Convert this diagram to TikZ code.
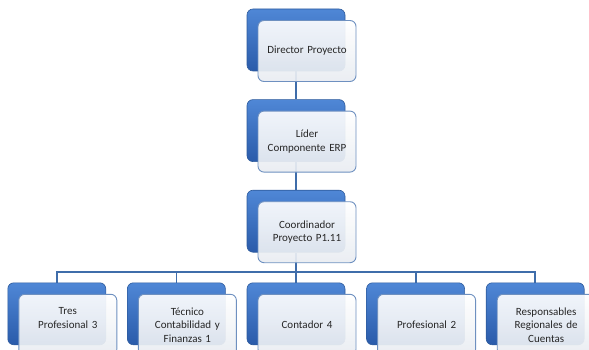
\documentclass[tikz,border=0pt]{standalone}
\usepackage{fontspec}
\setmainfont{Carlito}
\usetikzlibrary{positioning, backgrounds, calc}

\definecolor{bluetop}{HTML}{4F87D6}
\definecolor{bluebot}{HTML}{2A5BAA}
\definecolor{blueedge}{HTML}{2E5B9C}
\definecolor{cardbot}{HTML}{E8ECF1}
\definecolor{cardedge}{HTML}{6E90C0}
\definecolor{cardtext}{HTML}{262626}
\definecolor{linkblue}{HTML}{3F6DAA}

\begin{document}
\begin{tikzpicture}[
        x=1pt, y=-1pt,
        font=\fontsize{11}{13.5}\selectfont,
        node distance=28pt,
        back/.style ={rounded corners=6pt, minimum width=98pt, minimum height=62pt,
                      inner sep=0pt, draw=blueedge, line width=0.6pt,
                      top color=bluetop, bottom color=bluebot},
        card/.style ={rounded corners=6pt, minimum width=98pt, minimum height=61pt,
                      text width=90pt, inner sep=2pt, align=center, text=cardtext,
                      draw=cardedge, line width=0.9pt, top color=white,
                      bottom color=cardbot, fill opacity=0.92, text opacity=1},
        conn/.style ={draw=linkblue, line width=1.8pt}
    ]
      \clip (0,0) rectangle (589,350);
      \useasboundingbox (0,0) rectangle (589,350);

      % ===== BLUE BACK PLATES =====
      \node[back] at (296,40)              (dir)  {};
      \node[back, below=of dir]            (lid)  {};
      \node[back, below=of lid]            (coo)  {};
      \node[back, below=30pt of coo]       (con)  {};
      \node[back, left=21pt of con]        (tec)  {};
      \node[back, left=21pt of tec]        (tres) {};
      \node[back, right=21pt of con]       (pro)  {};
      \node[back, right=21pt of pro]       (res)  {};

      % ===== WHITE CARDS =====
      \node[card] at ($(dir)+(11,11)$)     (dirT)  {Director Proyecto};
      \node[card] at ($(lid)+(11,11)$)     (lidT)  {Líder\\Componente ERP};
      \node[card] at ($(coo)+(11,11)$)     (cooT)  {Coordinador\\Proyecto P1.11};
      \node[card] at ($(tres)+(11,11)$)    (tresT) {Tres\\Profesional 3\\\mbox{}};
      \node[card] at ($(tec)+(11,11)$)     (tecT)  {Técnico\\Contabilidad y\\Finanzas 1};
      \node[card] at ($(con)+(11,11)$)     (conT)  {Contador 4};
      \node[card] at ($(pro)+(11,11)$)     (proT)  {Profesional 2};
      \node[card] at ($(res)+(11,11)$)     (resT)  {Responsables\\Regionales de\\Cuentas};

      % ===== CONNECTORS =====
      \begin{scope}[on background layer]
        \coordinate (bus) at (296,272);
        \draw[conn] (dir.south) -- (lid.north);
        \draw[conn] (lid.south) -- (coo.north);
        \draw[conn] (coo.south) -- (con.north);
        \draw[conn] (tres.north) |- (bus) -| (res.north);
        \draw[conn] (tec.north) -- (tec.north |- bus);
        \draw[conn] (pro.north) -- (pro.north |- bus);
      \end{scope}
    \end{tikzpicture}
\end{document}
